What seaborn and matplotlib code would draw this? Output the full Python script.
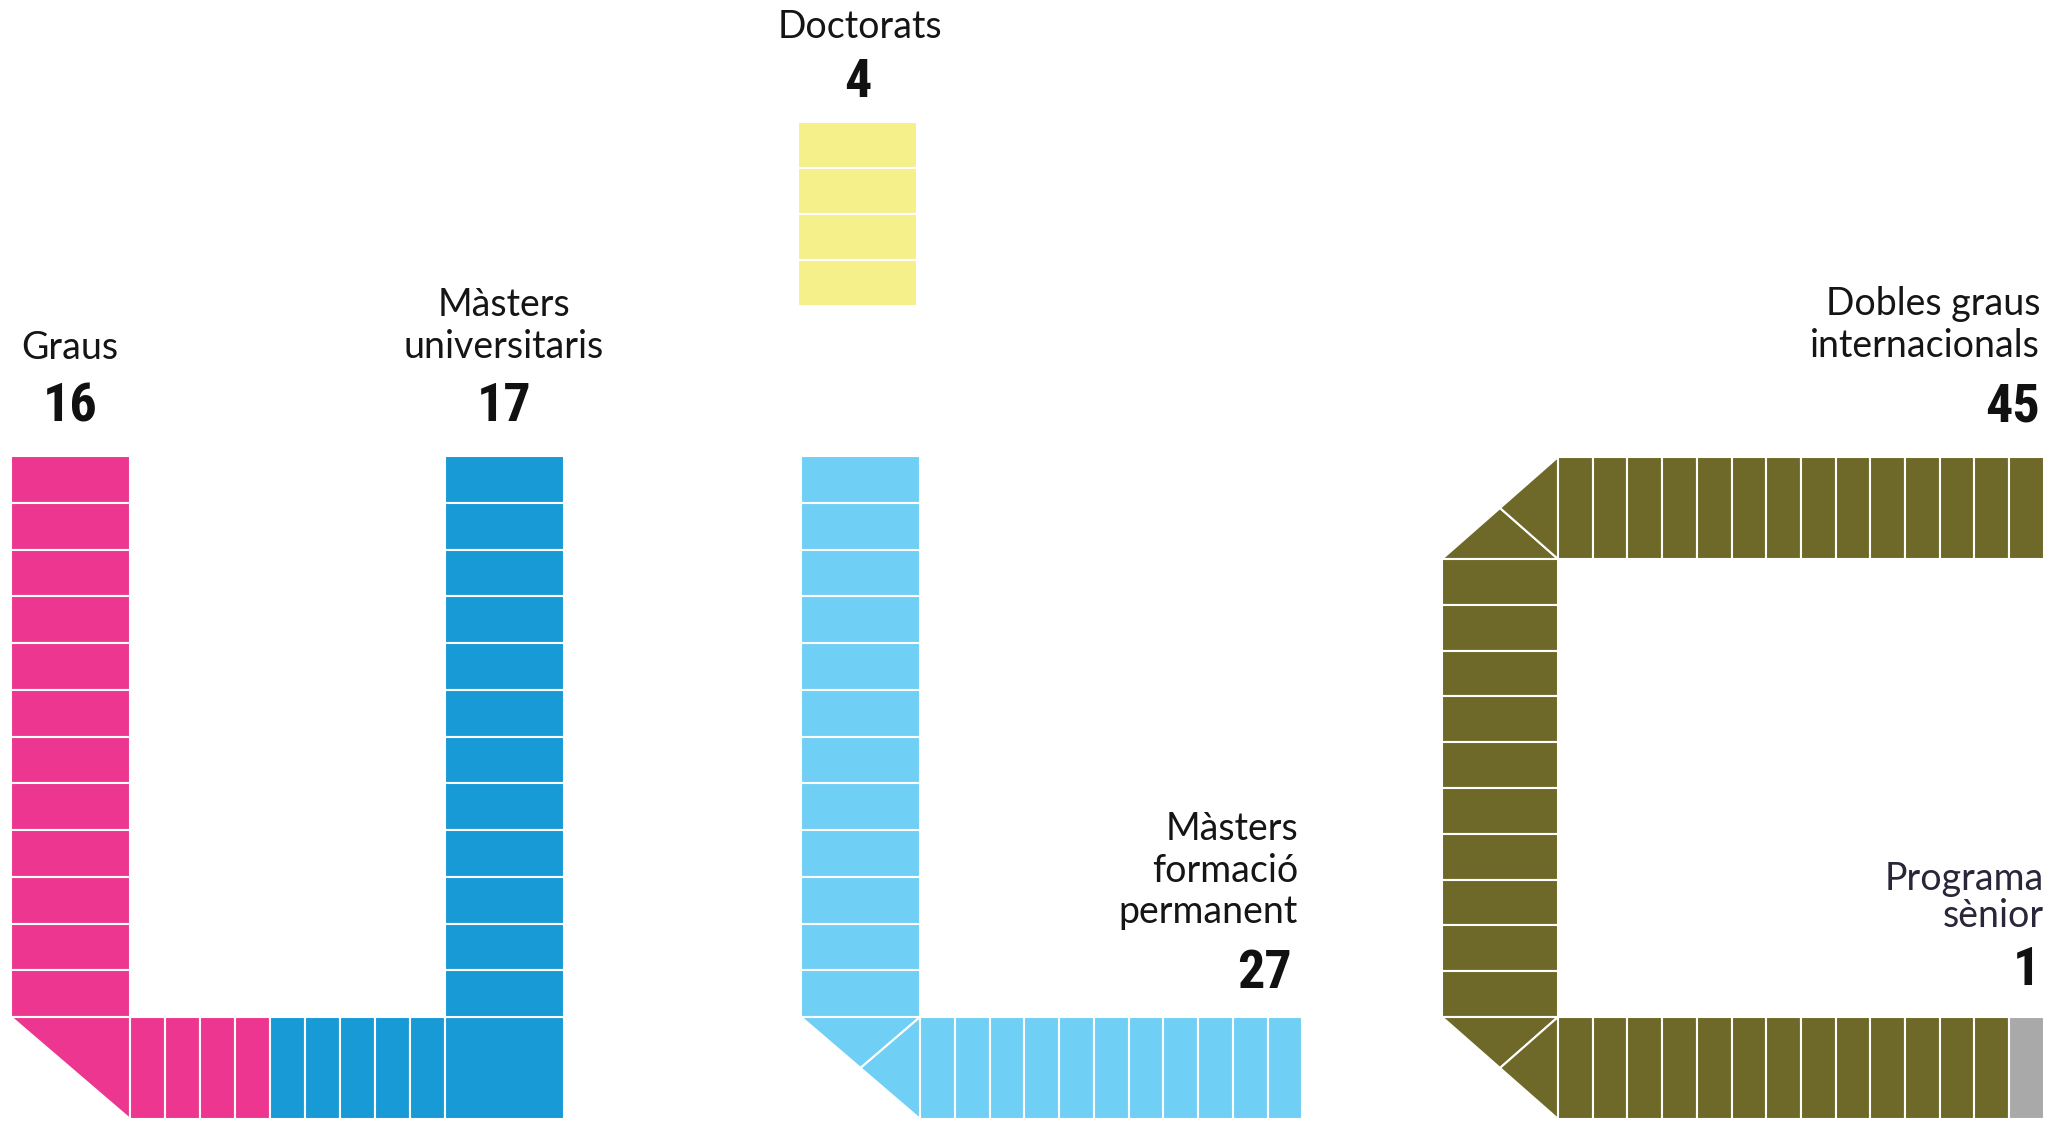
import matplotlib
matplotlib.use("Agg")
import matplotlib.pyplot as plt
from matplotlib.patches import Rectangle, Polygon
import seaborn as sns

# --- DADES ---
programs = ["Graus", "Màsters\nuniversitaris", "Doctorats",
            "Màsters\nformació\npermanent", "Dobles graus\ninternacionals",
            "Programa\nsènior"]
totals = [16, 17, 4, 27, 45, 1]
hex_colors = ["#EC368F", "#179AD6", "#F5F08A", "#70CFF4", "#6E6928", "#A9A9A9"]

# blocs dibuixats a cada tram
graus_column, graus_row = 12, 4
univ_row, univ_column = 5, 12
doct_column = 4
perm_column, perm_row = 12, 11
dobles_top, dobles_column, dobles_bottom = 14, 10, 13
senior_row = 1

# --- ESTIL ---
sns.set_theme(style="white")
palette = sns.color_palette(hex_colors)
label_font = ["Lato", "DejaVu Sans"]
number_font = ["Liberation Sans Narrow", "Roboto Condensed", "Roboto", "DejaVu Sans"]

W, H = 2049, 1121
fig = plt.figure(figsize=(W / 100, H / 100), dpi=100)
ax = fig.add_axes([0, 0, 1, 1])
ax.set_xlim(0, W)
ax.set_ylim(H, 0)
ax.axis("off")

row_h = 102      # alçada de les files
base_y = 1017    # dalt de la fila inferior
col_top = 456    # dalt de les columnes
edge = dict(edgecolor="white", linewidth=1.5)


def column(x, y_top, y_bottom, n, color, w=119):
    h = (y_bottom - y_top) / n
    for i in range(n):
        ax.add_patch(Rectangle((x, y_top + i * h), w, h, facecolor=color, **edge))


def row(x, y, n, color, cw=35):
    for i in range(n):
        ax.add_patch(Rectangle((x + i * cw, y), cw, row_h, facecolor=color, **edge))
    return x + n * cw


def corner(x, y, color, kind="bottom", split=False, w=119):
    if kind == "bottom":
        a, b, c = (x, y), (x + w, y), (x + w, y + row_h)
        pivot, far = b, c
    else:
        a, b, c = (x, y + row_h), (x + w, y), (x + w, y + row_h)
        pivot, far = c, b
    if not split:
        ax.add_patch(Polygon([a, b, c], closed=True, facecolor=color, **edge))
        return
    m = ((a[0] + far[0]) / 2, (a[1] + far[1]) / 2)
    for p in (a, b, c):
        if p != pivot:
            ax.add_patch(Polygon([p, pivot, m], closed=True, facecolor=color, **edge))


def label(x, y_first, text, ha, step=42, color="#151515", size=27):
    for i, line in enumerate(text.split("\n")):
        ax.text(x, y_first + i * step, line, ha=ha, va="baseline",
                fontsize=size, color=color, family=label_font)


def number(x, y, value, ha):
    ax.text(x, y, str(value), ha=ha, va="baseline", fontsize=39,
            fontweight="bold", color="#111111", family=number_font)


# Graus + Màsters universitaris (forma de U)
gx = 10.5
column(gx, col_top, base_y, graus_column, palette[0])
corner(gx, base_y, palette[0], "bottom")
x = row(gx + 119, base_y, graus_row, palette[0])
x = row(x, base_y, univ_row, palette[1])
ax.add_patch(Rectangle((x, base_y), 119, row_h, facecolor=palette[1], **edge))
column(x, col_top, base_y, univ_column, palette[1])
ux = x

# Doctorats
dx = 798
column(dx, 121.5, 306, doct_column, palette[2])

# Màsters formació permanent (forma de L)
px = 801
column(px, col_top, base_y, perm_column, palette[3])
corner(px, base_y, palette[3], "bottom", split=True)
row(px + 119, base_y, perm_row, palette[3], cw=34.75)

# Dobles graus internacionals + Programa sènior
ox, ow = 1442, 116
top_y = 457
corner(ox, top_y, palette[4], "top", split=True, w=ow)
row(ox + ow, top_y, dobles_top, palette[4], cw=34.7)
column(ox, top_y + row_h, base_y, dobles_column, palette[4], w=ow)
corner(ox, base_y, palette[4], "bottom", split=True, w=ow)
x = row(ox + ow, base_y, dobles_bottom, palette[4], cw=34.7)
row(x, base_y, senior_row, palette[5], cw=34.7)

# --- TEXTOS ---
label(gx + 59.5, 359, programs[0], "center")
number(gx + 59.5, 421, totals[0], "center")
label(ux + 59.5, 316, programs[1], "center")
number(ux + 59.5, 421, totals[1], "center")
label(dx + 62, 38, programs[2], "center")
number(dx + 59.5, 97, totals[2], "center")
label(1298, 840, programs[3], "right", step=41.5)
number(1292, 988, totals[3], "right")
label(2040, 315, programs[4], "right")
number(2040, 421, totals[4], "right")
label(2044, 890, programs[5], "right", step=37, color="#2A2538")
number(2040, 985, totals[5], "right")

fig.savefig("out.png", dpi=100, facecolor="white")
